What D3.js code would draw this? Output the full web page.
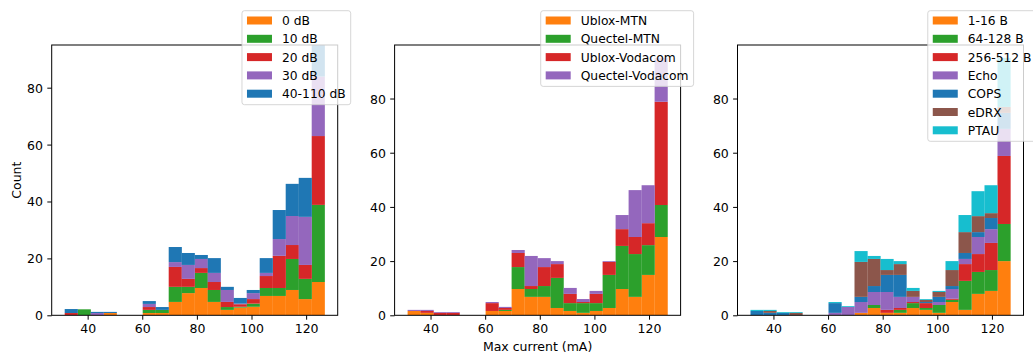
<!DOCTYPE html>
<html><head><meta charset="utf-8">
<script src="https://cdn.jsdelivr.net/npm/d3@7"></script>
<style>body{margin:0;background:#fff} svg{display:block} text{font-family:"DejaVu Sans",sans-serif;fill:#000}</style>
</head><body><svg id="c" width="1033" height="356"></svg>
<script>
// ---- data ----
const binEdges = [31.60,36.36,41.12,45.88,50.64,55.40,60.16,64.92,69.68,74.44,79.20,83.96,88.72,93.48,98.24,103.00,107.76,112.52,117.28,122.04,126.80];
const xTicks = [40,60,80,100,120];
const yTicks = [0,20,40,60,80];
const xDomain = [26.84,131.56];
const yMax = [95, 99.75, 99.75];

// panel 1: coverage level
const p1Labels = ["0 dB","10 dB","20 dB","30 dB","40-110 dB"];
const p1_0dB   = [0,0,0,0.8,0,0,0.8,0.8,4.7,7.8,9.6,4.7,1.9,2.7,3.0,6.8,6.8,8.9,5.7,11.7];
const p1_10dB  = [0,2.1,0,0,0,0,1.1,1.1,5.3,2.2,5.3,4.2,1.0,0.3,1.1,2.8,2.8,10.9,7.1,27.1];
const p1_20dB  = [0.8,0,0,0,0,0,1.0,0,7.0,2.8,1.7,2.8,1.8,0.9,1.6,4.2,11.3,4.9,4.9,24.2];
const p1_30dB  = [0,0,0.8,0,0,0,1.1,0,1.7,4.9,3.2,3.2,4.2,0.2,2.1,1.1,5.9,10.2,16.9,20.9];
const p1_40dB  = [1.4,0,0.4,0.4,0,0,1.0,1.0,5.3,4.2,1.4,5.2,1.1,2.0,1.1,5.2,10.2,11.3,13.7,11.1];

// panel 2: module / network
const p2Labels = ["Ublox-MTN","Quectel-MTN","Ublox-Vodacom","Quectel-Vodacom"];
const p2_uMTN  = [1.6,0.9,0,0,0,0,1.6,1.6,9.7,6.8,6.8,2.7,1.6,0.9,1.6,2.7,9.7,6.8,14.9,28.9];
const p2_qMTN  = [0,0,0,0,0,0,0,0.4,8.1,2.9,4.0,11.1,2.9,3.6,2.9,12.2,15.9,15.8,11.0,11.8];
const p2_uVoda = [0,0.7,0.9,0.9,0,0,2.9,0.7,5.2,1.1,7.0,5.1,3.4,0.4,3.4,4.8,6.2,6.3,8.1,38.1];
const p2_qVoda = [0.4,0.4,0.3,0.3,0,0,0.4,0.4,1.1,11.1,3.3,1.1,2.2,1.1,1.1,0.3,5.2,17.3,14.0,16.2];

// panel 3: message type
const p3Labels = ["1-16 B","64-128 B","256-512 B","Echo","COPS","eDRX","PTAU"];
const p3_small = [0,0,0,0,0,0,0,0,0.9,2.7,0.9,0.9,2.7,2.0,0.9,4.9,2.0,7.9,9.0,20.0];
const p3_mid   = [0,0,0,0,0,0,0,0,0,1.1,0,1.1,1.8,0.7,2.9,0.8,10.7,8.1,7.7,13.7];
const p3_large = [0,0,0,0,0,0,0,0,0,0,1.1,0.7,0.4,1.8,0,0.4,6.2,6.6,10.0,25.1];
const p3_echo  = [0,0,0,0,0,0,0.9,3.1,4.0,4.8,6.6,4.1,1.9,0,1.1,3.6,1.9,6.3,5.1,10.0];
const p3_cops  = [1.6,0.9,0.9,0,0,0,3.6,0,1.9,2.2,6.3,8.1,0,0.4,1.9,1.1,2.2,1.8,4.1,5.9];
const p3_edrx  = [0,0.7,0,0.9,0,0,0,0,12.9,10.0,1.8,4.0,2.2,0.8,1.8,5.9,7.7,5.9,1.8,2.2];
const p3_ptau  = [0.4,0.4,0.3,0.3,0,0,0.4,0.3,4.0,1.1,4.1,1.1,1.1,0.3,0.4,3.3,6.3,9.2,10.3,18.1];

const C = {orange:"#ff7f0e",green:"#2ca02c",red:"#d62728",purple:"#9467bd",blue:"#1f77b4",brown:"#8c564b",cyan:"#17becf"};

const panels = [
  {labels:p1Labels, series:[p1_0dB,p1_10dB,p1_20dB,p1_30dB,p1_40dB],
   colors:[C.orange,C.green,C.red,C.purple,C.blue]},
  {labels:p2Labels, series:[p2_uMTN,p2_qMTN,p2_uVoda,p2_qVoda],
   colors:[C.orange,C.green,C.red,C.purple]},
  {labels:p3Labels, series:[p3_small,p3_mid,p3_large,p3_echo,p3_cops,p3_edrx,p3_ptau],
   colors:[C.orange,C.green,C.red,C.purple,C.blue,C.brown,C.cyan]}
];

// ---- layout ----
(function(){
const svg = d3.select("#c");
const FS = 12.5, LFS = 12.3;
const axW = 286, axTop = 45, axBottom = 315.3, tickLen = 4.4;

panels.forEach((cfg, i) => {
  const left = 51.7 + 342.9 * i, right = left + axW;
  const x = d3.scaleLinear().domain(xDomain).range([left, right]);
  const y = d3.scaleLinear().domain([0, yMax[i]]).range([axBottom, axTop]);
  const g = svg.append("g");

  const table = binEdges.slice(0, -1).map((e, b) => {
    const row = {x0: e, x1: binEdges[b + 1]};
    cfg.labels.forEach((l, k) => row[l] = cfg.series[k][b]);
    return row;
  });
  const stacked = d3.stack().keys(cfg.labels)(table);

  const clipId = "clip" + i;
  svg.append("clipPath").attr("id", clipId).append("rect")
    .attr("x", left).attr("y", axTop).attr("width", axW).attr("height", axBottom - axTop);

  const bars = g.append("g").attr("clip-path", `url(#${clipId})`);
  stacked.forEach((layer, k) => {
    bars.append("g").attr("fill", cfg.colors[k])
      .selectAll("rect").data(layer.filter(d => d[1] - d[0] > 0)).join("rect")
      .attr("x", d => x(d.data.x0))
      .attr("width", d => x(d.data.x1) - x(d.data.x0) + 0.15)
      .attr("y", d => y(d[1]))
      .attr("height", d => y(d[0]) - y(d[1]));
  });

  // axes
  const xa = g.append("g").attr("transform", `translate(0,${axBottom})`)
    .call(d3.axisBottom(x).tickValues(xTicks).tickSize(tickLen).tickPadding(4.7).tickFormat(d3.format("d")));
  const ya = g.append("g").attr("transform", `translate(${left},0)`)
    .call(d3.axisLeft(y).tickValues(yTicks).tickSize(tickLen).tickPadding(4.3).tickFormat(d3.format("d")));
  [xa, ya].forEach(a => {
    a.attr("font-size", null).attr("font-family", null);
    a.select(".domain").remove();
    a.selectAll("line").attr("stroke", "#000").attr("stroke-width", 1);
    a.selectAll("text").style("font-size", FS + "px").attr("fill", "#000");
  });
  ya.selectAll("text").attr("dy", "0.36em");

  g.append("rect").attr("x", left).attr("y", axTop).attr("width", axW).attr("height", axBottom - axTop)
    .attr("fill", "none").attr("stroke", "#000").attr("stroke-width", 1);

  if (i === 0) {
    svg.append("text").attr("transform", `translate(20.5,${(axTop + axBottom) / 2}) rotate(-90)`)
      .attr("text-anchor", "middle").style("font-size", FS + "px").text("Count");
  }
  if (i === 1) {
    svg.append("text").attr("x", (left + right) / 2).attr("y", 351)
      .attr("text-anchor", "middle").style("font-size", FS + "px").text("Max current (mA)");
  }

  // legend
  const lg = svg.append("g");
  const n = cfg.labels.length;
  const boxTop = 10.7, rowH = 18.3, firstRow = 20.5;
  const boxH = rowH * (n - 1) + 20.8;
  const box = lg.append("rect").attr("y", boxTop).attr("height", boxH)
    .attr("rx", 2.5).attr("ry", 2.5)
    .attr("fill", "#fff").attr("fill-opacity", 0.8)
    .attr("stroke", "#cccccc").attr("stroke-opacity", 0.8).attr("stroke-width", 1);
  const texts = lg.selectAll("text").data(cfg.labels).join("text")
    .style("font-size", LFS + "px")
    .attr("y", (d, k) => firstRow + rowH * k + 4.5)
    .text(d => d);
  let maxW = 0;
  texts.each(function(){ maxW = Math.max(maxW, this.getComputedTextLength()); });
  const boxW = 5 + 25 + 10 + maxW + 5;
  const boxRight = right + 13;
  const boxLeft = boxRight - boxW;
  box.attr("x", boxLeft).attr("width", boxW);
  texts.attr("x", boxLeft + 40);
  lg.selectAll("rect.sw").data(cfg.labels).join("rect").attr("class", "sw")
    .attr("x", boxLeft + 5).attr("width", 25)
    .attr("y", (d, k) => firstRow + rowH * k - 4)
    .attr("height", 8)
    .attr("fill", (d, k) => cfg.colors[k]);
});
})();
</script>
</body></html>
